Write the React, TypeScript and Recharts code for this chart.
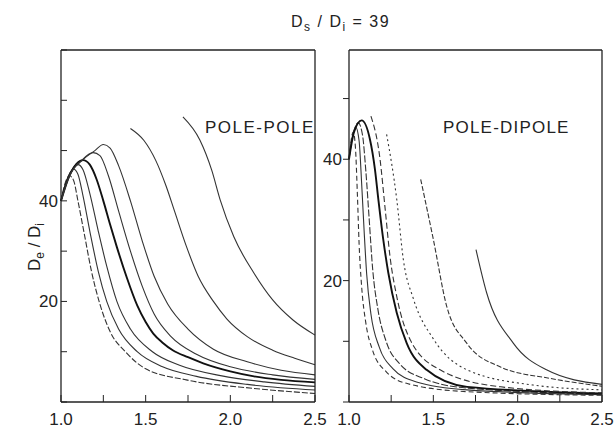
import React from "react";
import { LineChart, Line, XAxis, YAxis } from "recharts";

// x = lambda, v = De/Di
const X_TICKS = [1, 1.25, 1.5, 1.75, 2, 2.25, 2.5];
const POLE_Y_TICKS = [0, 10, 20, 30, 40, 50, 60, 70];
const DIPOLE_Y_TICKS = [0, 10, 20, 30, 40, 50];
const Y_LABELS = [20, 40];

const poleA = [[1.0, 40], [1.02, 43], [1.05, 45], [1.075, 44], [1.1, 40], [1.14, 33], [1.18, 26], [1.225, 20], [1.29, 14], [1.38, 10], [1.5, 6.6], [1.74, 4.4], [2.14, 2.7], [2.5, 1.7]];
const poleB = [[1.0, 40], [1.03, 43.8], [1.075, 46.3], [1.1, 45.3], [1.13, 41], [1.17, 34], [1.22, 26], [1.27, 20], [1.34, 14.5], [1.45, 10], [1.6, 7], [1.8, 5.1], [2.1, 3.5], [2.5, 2.4]];
const poleC = [[1.0, 40], [1.04, 44.5], [1.1, 47.2], [1.13, 46.2], [1.17, 41.5], [1.22, 34], [1.27, 27], [1.33, 20], [1.41, 14.5], [1.54, 10], [1.7, 7.3], [1.95, 5.2], [2.2, 4], [2.5, 3.1]];
const poleD = [[1.0, 40], [1.05, 45], [1.13, 48.1], [1.17, 47.2], [1.21, 44.3], [1.25, 40], [1.29, 35.3], [1.33, 30.8], [1.39, 24.6], [1.45, 19.2], [1.5, 15.9], [1.545, 13.6], [1.6, 11.8], [1.66, 10.3], [1.75, 8.9], [1.84, 7.7], [2.0, 6.1], [2.14, 5.1], [2.3, 4.4], [2.5, 3.9]];
const poleE = [[1.0, 40], [1.05, 45], [1.12, 48], [1.19, 49.6], [1.23, 49], [1.28, 45], [1.34, 38], [1.41, 30], [1.48, 23], [1.55, 17.5], [1.65, 13], [1.8, 9.5], [2.0, 7], [2.25, 5.4], [2.5, 4.5]];
const poleF = [[1.0, 40], [1.05, 45], [1.13, 48.2], [1.2, 50], [1.25, 51.2], [1.29, 50.5], [1.34, 47], [1.41, 40], [1.48, 32], [1.55, 25], [1.63, 19.5], [1.75, 14.5], [1.9, 10.5], [2.1, 8], [2.3, 6.3], [2.5, 5.4]];
const poleG = [[1.41, 54.4], [1.49, 52], [1.56, 48], [1.62, 43], [1.67, 38], [1.74, 31], [1.81, 25], [1.9, 20], [1.98, 16.5], [2.1, 13], [2.25, 10.3], [2.38, 8.7], [2.5, 7.4]];
const poleH = [[1.72, 56.7], [1.82, 52.1], [1.89, 46.1], [1.94, 40.2], [2.02, 32.9], [2.14, 25.6], [2.25, 20.3], [2.37, 16.3], [2.5, 13.3]];

const dipA = [[1.0, 40], [1.025, 44.5], [1.038, 42], [1.05, 34], [1.06, 26], [1.075, 19], [1.1, 13], [1.14, 8.5], [1.22, 5], [1.35, 3], [1.7, 1.7], [2.5, 1.1]];
const dipB = [[1.0, 40], [1.015, 43], [1.04, 45.3], [1.06, 43], [1.075, 36], [1.09, 28], [1.105, 21], [1.13, 14.5], [1.18, 9], [1.26, 5.5], [1.4, 3.3], [1.7, 2], [2.5, 1.2]];
const dipC = [[1.0, 40], [1.02, 43.5], [1.055, 46], [1.08, 44], [1.1, 38], [1.12, 30], [1.14, 22], [1.17, 15.5], [1.22, 10], [1.3, 6.3], [1.45, 3.8], [1.7, 2.3], [2.5, 1.3]];
const dipD = [[1.0, 40], [1.03, 44.5], [1.075, 46.4], [1.124, 43.3], [1.154, 38.3], [1.174, 33.4], [1.203, 26.8], [1.233, 21.3], [1.283, 14.7], [1.342, 9.7], [1.46, 5.3], [1.7, 2.5], [2.5, 1.4]];
const dipE = [[1.13, 47.1], [1.184, 40], [1.213, 32.2], [1.243, 24], [1.283, 17.4], [1.362, 10.3], [1.54, 5.3], [1.9, 2.5], [2.5, 1.5]];
const dipF = [[1.223, 44.1], [1.283, 33.4], [1.322, 23.5], [1.382, 17], [1.5, 10.4], [1.7, 5.3], [2.09, 2.8], [2.5, 2.0]];
const dipG = [[1.425, 36.7], [1.5, 26.8], [1.579, 15.8], [1.698, 9.7], [1.895, 5.8], [2.19, 3.9], [2.5, 2.6]];
const dipH = [[1.753, 25.1], [1.816, 18], [1.974, 9.7], [2.171, 5.3], [2.5, 2.9]];

const toRows = (pts: number[][]) => pts.map(([x, v]) => ({ x, v }));

const INK = "#222";
const FONT = "'Liberation Sans', Arial, sans-serif";

type Curve = { pts: number[][]; width?: number; dash?: string };

const poleCurves: Curve[] = [
  { pts: poleA, dash: "6 2" },
  { pts: poleB },
  { pts: poleC },
  { pts: poleD, width: 1.9 },
  { pts: poleE },
  { pts: poleF },
  { pts: poleG },
  { pts: poleH },
];

const dipoleCurves: Curve[] = [
  { pts: dipA, dash: "5 3" },
  { pts: dipB },
  { pts: dipC, dash: "7 2" },
  { pts: dipD, width: 1.9 },
  { pts: dipE, dash: "6 3" },
  { pts: dipF, dash: "2 3" },
  { pts: dipG, dash: "5 2" },
  { pts: dipH },
];

const xFmt = (v: number) => (Math.abs(v * 2 - Math.round(v * 2)) < 1e-6 ? v.toFixed(1) : "");
const yFmt = (v: number) => (Y_LABELS.includes(v) ? String(v) : "");

function Panel({
  curves,
  yMax,
  yTicks,
  width,
  leftWidth,
  rightWidth,
  outwardY,
}: {
  curves: Curve[];
  yMax: number;
  yTicks: number[];
  width: number;
  leftWidth: number;
  rightWidth: number;
  outwardY: boolean;
}) {
  const tick = { fontSize: 17, fill: INK, fontFamily: FONT };
  return (
    <LineChart width={width} height={437} margin={{ top: 0, right: 0, bottom: 0, left: 0 }}>
      <XAxis
        dataKey="x"
        type="number"
        domain={[1, 2.5]}
        ticks={X_TICKS}
        interval={0}
        tickFormatter={xFmt}
        tick={tick}
        tickSize={-7}
        tickMargin={18}
        height={35}
        axisLine={{ stroke: INK, strokeWidth: 1.3 }}
        tickLine={{ stroke: INK }}
      />
      <XAxis
        xAxisId="top"
        orientation="top"
        dataKey="x"
        type="number"
        domain={[1, 2.5]}
        ticks={X_TICKS}
        interval={0}
        tick={false}
        tickSize={-6}
        height={50}
        axisLine={{ stroke: INK, strokeWidth: 1.3 }}
        tickLine={{ stroke: INK }}
      />
      <YAxis
        type="number"
        domain={[0, yMax]}
        ticks={yTicks}
        interval={0}
        tickFormatter={yFmt}
        tick={tick}
        tickSize={outwardY ? 6 : -6}
        tickMargin={outwardY ? 1 : 9}
        width={leftWidth}
        axisLine={{ stroke: INK, strokeWidth: 1.3 }}
        tickLine={{ stroke: INK }}
      />
      <YAxis
        yAxisId="r"
        orientation="right"
        type="number"
        domain={[0, yMax]}
        ticks={yTicks}
        interval={0}
        tick={false}
        tickSize={-6}
        width={rightWidth}
        axisLine={{ stroke: INK, strokeWidth: 1.3 }}
        tickLine={{ stroke: INK }}
      />
      {curves.map((c, i) => (
        <Line
          key={i}
          data={toRows(c.pts)}
          dataKey="v"
          type="monotone"
          stroke={c.width ? "#111" : "#333"}
          strokeWidth={c.width ?? 1.1}
          strokeDasharray={c.dash}
          dot={false}
          activeDot={false}
          isAnimationActive={false}
        />
      ))}
    </LineChart>
  );
}

export default function App() {
  const text: React.CSSProperties = {
    position: "absolute",
    fontFamily: FONT,
    color: INK,
    lineHeight: 1,
    whiteSpace: "nowrap",
  };
  return (
    <div style={{ position: "absolute", left: 0, top: 0, width: 616, height: 437, overflow: "hidden", background: "#fff" }}>
      <div style={{ position: "absolute", left: 0, top: 0 }}>
        <Panel curves={poleCurves} yMax={70} yTicks={POLE_Y_TICKS} width={330} leftWidth={61} rightWidth={15} outwardY={false} />
      </div>
      <div style={{ position: "absolute", left: 300, top: 0 }}>
        <Panel curves={dipoleCurves} yMax={58} yTicks={DIPOLE_Y_TICKS} width={316} leftWidth={49} rightWidth={14} outwardY={true} />
      </div>
      <div style={{ ...text, left: 291, top: 14, fontSize: 16, letterSpacing: 1.5 }}>
        D<sub style={{ fontSize: 12 }}>s</sub> / D<sub style={{ fontSize: 12 }}>i</sub> = 39
      </div>
      <div style={{ ...text, left: 205, top: 119, fontSize: 17, letterSpacing: 1.5 }}>POLE-POLE</div>
      <div style={{ ...text, left: 443, top: 119, fontSize: 17, letterSpacing: 1.2 }}>POLE-DIPOLE</div>
      <div
        style={{
          ...text,
          left: 36,
          top: 247,
          fontSize: 17,
          transform: "translate(-50%, -50%) rotate(-90deg)",
        }}
      >
        D<sub style={{ fontSize: 12 }}>e</sub> / D<sub style={{ fontSize: 12 }}>i</sub>
      </div>
    </div>
  );
}
